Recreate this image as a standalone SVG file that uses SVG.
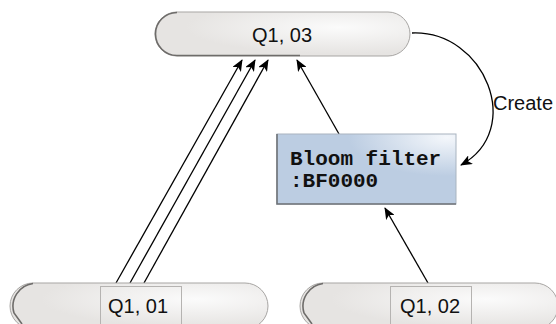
<svg xmlns="http://www.w3.org/2000/svg" width="556" height="324" viewBox="0 0 556 324">
<style>
.pill{fill:url(#pg);stroke:#a7a5a3;stroke-width:1}
.shadow{fill:none;stroke:#6e6c6a;stroke-width:1.6}
.inner{fill:none;stroke:#b5b3b1;stroke-width:1}
.lbl{font-family:"Liberation Sans",Arial,sans-serif;font-size:20px;fill:#111}
.mono{font-family:"Liberation Mono","Courier New",monospace;font-size:21px;font-weight:bold;fill:#111}
.edge{fill:none;stroke:#000;stroke-width:1.3;marker-end:url(#ah)}
.fade{fill:none;stroke:#999;stroke-width:1;stroke-dasharray:2 2}
</style>
<defs>
<radialGradient id="pg" cx="0.72" cy="0.35" r="0.6" gradientTransform="scale(1,1)">
<stop offset="0" stop-color="#fbfbfb"/>
<stop offset="1" stop-color="#e6e4e2"/>
</radialGradient>
<radialGradient id="bg" cx="0.95" cy="0.05" r="0.55">
<stop offset="0" stop-color="#f4f7fb"/>
<stop offset="1" stop-color="#bccde2"/>
</radialGradient>
<marker id="ah" viewBox="0 0 12 10" refX="11" refY="5" markerWidth="12" markerHeight="10" markerUnits="userSpaceOnUse" orient="auto">
<path d="M0,0 L12,5 L0,10 L3,5 Z" fill="#000"/>
</marker>
</defs>
<g id="connectors">
<line class="fade" x1="110" y1="293" x2="116" y2="283"/>
<line class="fade" x1="124" y1="293" x2="130" y2="283"/>
<line class="fade" x1="138" y1="293" x2="144" y2="283"/>
<line class="fade" x1="432" y1="290" x2="429" y2="284"/>
<line class="edge" x1="116" y1="283" x2="242" y2="60"/>
<line class="edge" x1="130" y1="283" x2="255" y2="60"/>
<line class="edge" x1="144" y1="283" x2="268" y2="60"/>
<line class="edge" x1="339" y1="134" x2="297" y2="60"/>
<line class="edge" x1="428" y1="283" x2="385" y2="208"/>
<path class="edge" d="M412,33 C485,30 525,130 461,165"/>
<text class="lbl" x="493" y="110">Create</text>
</g>
<g id="q103">
<rect class="pill" x="155" y="12" width="255" height="44" rx="22"/>
<path class="shadow" d="M177,12.5 A21.5,21.5 0 0 0 177,55.5 L300,55.5"/>
<text class="lbl" x="282" y="42" text-anchor="middle">Q1, 03</text>
</g>
<g id="bloom">
<rect x="277" y="134" width="179" height="70" fill="url(#bg)" stroke="#a9b4c0" stroke-width="1"/>
<path d="M277,134 L277,204 L456,204" fill="none" stroke="#6f7378" stroke-width="1.6"/>
<text class="mono" x="290" y="165">Bloom filter</text>
<text class="mono" x="290" y="187">:BF0000</text>
</g>
<g id="q101">
<rect class="pill" x="10" y="283" width="258" height="46" rx="23"/>
<path class="shadow" d="M33,283.5 A23,23 0 0 0 14,313 L22,324"/>
<rect class="inner" x="100.5" y="286.5" width="81" height="40" fill="none"/>
<text class="lbl" x="138" y="313" text-anchor="middle">Q1, 01</text>
</g>
<g id="q102">
<rect class="pill" x="300" y="283" width="258" height="46" rx="23"/>
<path class="shadow" d="M323,283.5 A23,23 0 0 0 304,313 L312,324"/>
<rect class="inner" x="390.5" y="286.5" width="81" height="40" fill="none"/>
<text class="lbl" x="430" y="313" text-anchor="middle">Q1, 02</text>
</g>
</svg>
